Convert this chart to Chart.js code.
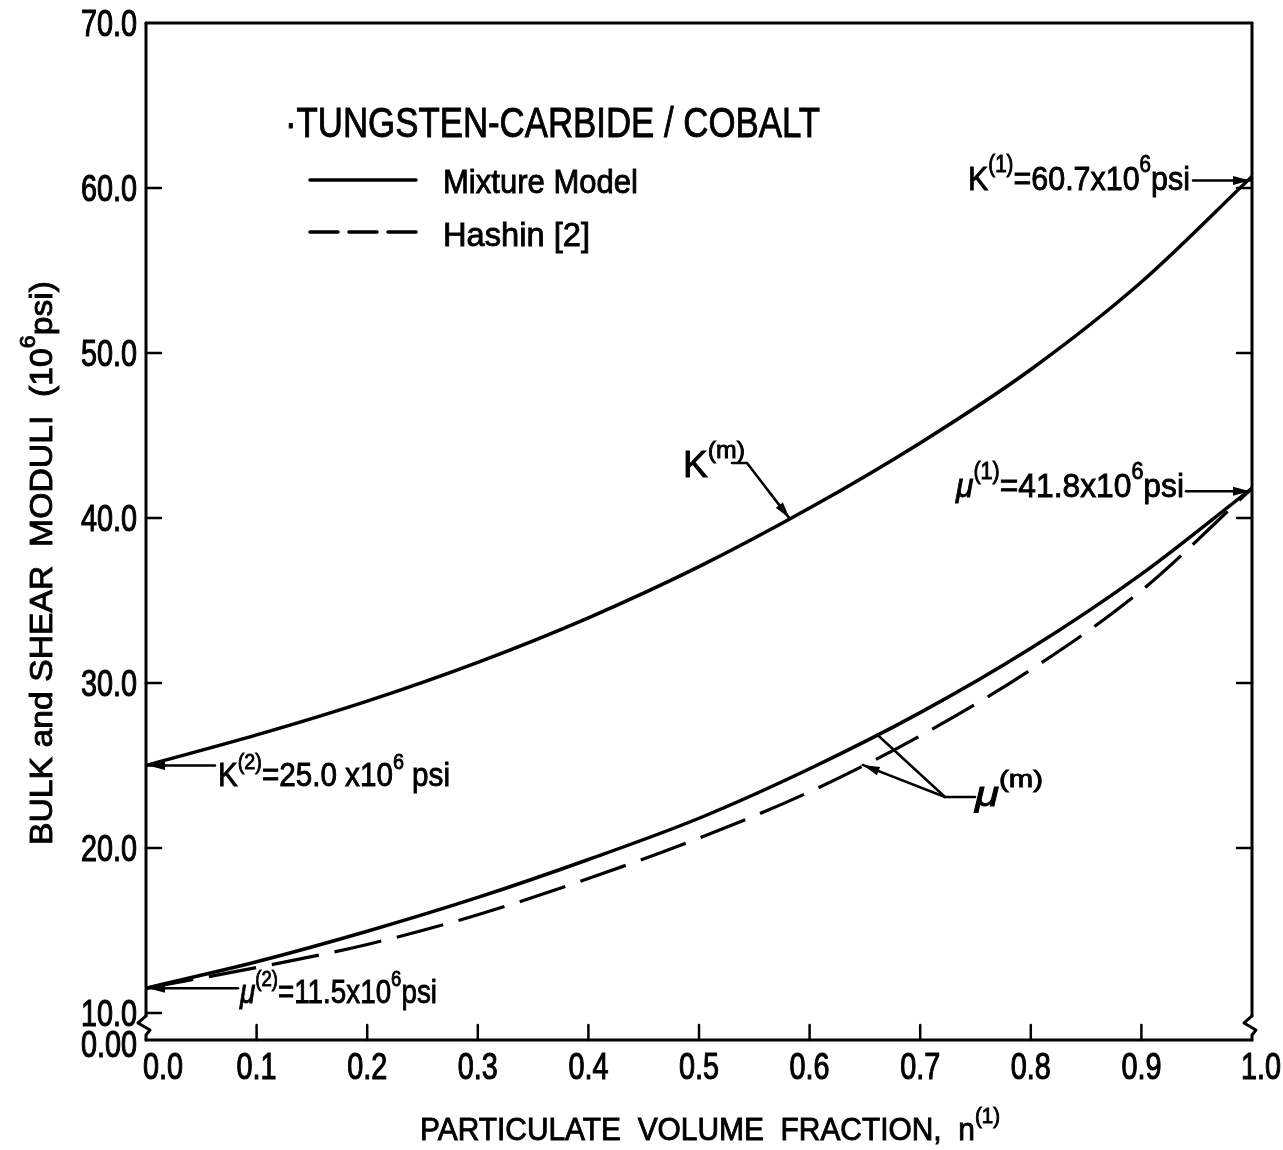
<!DOCTYPE html>
<html>
<head>
<meta charset="utf-8">
<title>Tungsten-carbide / cobalt moduli</title>
<script src="https://cdn.jsdelivr.net/npm/chart.js@4.4.1/dist/chart.umd.min.js"></script>
<style>
    html, body { margin: 0; padding: 0; background: #fff; }
    canvas { display: block; }
</style>
</head>
<body>
<canvas id="modChart" width="1283" height="1150"></canvas>
<script>
// particulate volume fraction n(1)
const fractions = [0.0, 0.1, 0.2, 0.3, 0.4, 0.5, 0.6, 0.7, 0.8, 0.9, 1.0];
// moduli, 10^6 psi
const mixtureBulk = [25.0, 26.85, 28.9, 31.25, 33.95, 37.05, 40.6, 44.55, 49.0, 54.3, 60.7];
const mixtureShear = [11.5, 13.1, 14.95, 17.0, 19.3, 21.8, 24.8, 28.2, 32.1, 36.6, 41.8];
const hashinShear = [11.5, 12.75, 14.15, 15.95, 18.15, 20.6, 23.4, 26.8, 30.8, 35.6, 41.8];

const xTicks = [0.0, 0.1, 0.2, 0.3, 0.4, 0.5, 0.6, 0.7, 0.8, 0.9, 1.0];
const yTicks = [10, 20, 30, 40, 50, 60, 70];
const yFloor = 8.36;          // broken axis: the bottom line is labelled 0.00
const yFloorLabel = "0.00";

const FONT = '"Liberation Sans", Arial, "DejaVu Sans", sans-serif';
const INK = "#000";
const TEXT_STROKE = 0.9;      // thickens the lettering a little

function toPoints(values) {
    return fractions.map((x, i) => ({ x: x, y: values[i] }));
}

function valueAt(values, f) {
    // linear lookup between read points, used only to aim the leader arrows
    for (let i = 1; i < fractions.length; i++) {
        if (f <= fractions[i]) {
            const t = (f - fractions[i - 1]) / (fractions[i] - fractions[i - 1]);
            return values[i - 1] + t * (values[i] - values[i - 1]);
        }
    }
    return values[values.length - 1];
}

function fontFor(part, size) {
    const s = part.sup ? size * 0.68 : size;
    return (part.it ? "italic " : "") + Math.round(s) + "px " + FONT;
}

function richWidth(ctx, parts, size) {
    let w = 0;
    parts.forEach((p) => {
        ctx.font = fontFor(p, size);
        w += ctx.measureText(p.t).width;
    });
    return w;
}

function inkText(ctx, text, x, y) {
    ctx.fillText(text, x, y);
    ctx.strokeText(text, x, y);
}

// text with superscripts, left/baseline at (x, y), squeezed to a width
function drawRich(ctx, parts, x, y, size, width) {
    const natural = richWidth(ctx, parts, size);
    const sx = width ? width / natural : 1;
    ctx.save();
    ctx.translate(x, y);
    ctx.scale(sx, 1);
    ctx.fillStyle = INK;
    ctx.strokeStyle = INK;
    ctx.lineWidth = TEXT_STROKE;
    ctx.setLineDash([]);
    ctx.textAlign = "left";
    ctx.textBaseline = "alphabetic";
    let cx = 0;
    parts.forEach((p) => {
        ctx.font = fontFor(p, size);
        inkText(ctx, p.t, cx, p.sup ? -size * 0.52 : 0);
        cx += ctx.measureText(p.t).width;
    });
    ctx.restore();
}

// narrow lettering for the tick numbers
function drawNarrow(ctx, text, x, y, align) {
    ctx.save();
    ctx.translate(x, y);
    ctx.scale(0.8, 1);
    ctx.font = "36px " + FONT;
    ctx.fillStyle = INK;
    ctx.strokeStyle = INK;
    ctx.lineWidth = TEXT_STROKE * 1.2;
    ctx.textAlign = align;
    ctx.textBaseline = "alphabetic";
    inkText(ctx, text, 0, 0);
    ctx.restore();
}

function polyline(ctx, pts, head) {
    ctx.beginPath();
    ctx.moveTo(pts[0][0], pts[0][1]);
    for (let i = 1; i < pts.length; i++) ctx.lineTo(pts[i][0], pts[i][1]);
    ctx.stroke();
    if (!head) return;
    const [x1, y1] = pts[pts.length - 2];
    const [x2, y2] = pts[pts.length - 1];
    const a = Math.atan2(y2 - y1, x2 - x1);
    const len = 17, half = 4.5;
    ctx.beginPath();
    ctx.moveTo(x2, y2);
    ctx.lineTo(x2 - len * Math.cos(a) + half * Math.sin(a), y2 - len * Math.sin(a) - half * Math.cos(a));
    ctx.lineTo(x2 - len * Math.cos(a) - half * Math.sin(a), y2 - len * Math.sin(a) + half * Math.cos(a));
    ctx.closePath();
    ctx.fill();
}

const framePlugin = {
    id: "frame",
    afterDatasetsDraw(chart) {
        const ctx = chart.ctx;
        const xs = chart.scales.x, ys = chart.scales.y;
        const L = chart.chartArea.left, R = chart.chartArea.right;
        const T = chart.chartArea.top, B = chart.chartArea.bottom;
        const y10 = ys.getPixelForValue(yTicks[0]);

        ctx.save();
        ctx.strokeStyle = INK;
        ctx.fillStyle = INK;
        ctx.lineWidth = 3;
        ctx.lineJoin = "round";
        ctx.lineCap = "round";

        // frame with the axis break near the bottom of both verticals
        const zig = (X) => [[X, y10 + 3], [X - 8, y10 + 10], [X + 4, y10 + 17], [X, y10 + 22], [X, B]];
        polyline(ctx, [[L, B], [R, B]]);
        polyline(ctx, [[L, T], [R, T]]);
        polyline(ctx, [[L, T], [L, y10 + 3]]);
        polyline(ctx, zig(L));
        polyline(ctx, [[R, T], [R, y10 + 3]]);
        polyline(ctx, zig(R));

        // inward tick marks
        ctx.lineWidth = 2.5;
        yTicks.slice(0, -1).forEach((v) => {
            const py = ys.getPixelForValue(v);
            polyline(ctx, [[L, py], [L + 15, py]]);
            if (v > yTicks[0]) polyline(ctx, [[R, py], [R - 15, py]]);
        });
        xTicks.slice(1, -1).forEach((v) => {
            const px = xs.getPixelForValue(v);
            polyline(ctx, [[px, B], [px, B - 15]]);
        });
        ctx.restore();
    },
    afterDraw(chart) {
        const ctx = chart.ctx;
        const xs = chart.scales.x, ys = chart.scales.y;
        const px = (f) => xs.getPixelForValue(f);
        const py = (v) => ys.getPixelForValue(v);
        const L = chart.chartArea.left, B = chart.chartArea.bottom;
        const last = fractions.length - 1;

        ctx.save();
        ctx.strokeStyle = INK;
        ctx.fillStyle = INK;
        ctx.lineCap = "round";

        // tick numbers, placed from the chart's own scale ticks
        ys.ticks.forEach((t) => {
            const label = t.value === yFloor ? yFloorLabel : Number(t.value).toFixed(1);
            const shift = t.value === yFloor ? 17 : 13;
            drawNarrow(ctx, label, L - 9, py(t.value) + shift, "right");
        });
        xs.ticks.forEach((t, i) => {
            let nudge = 0;
            if (i === 0) nudge = 17;
            if (i === xs.ticks.length - 1) nudge = 9;
            drawNarrow(ctx, Number(t.value).toFixed(1), px(t.value) + nudge, B + 39, "center");
        });

        // legend
        drawRich(ctx, [{ t: "·TUNGSTEN-CARBIDE / COBALT" }], 285, 137, 42, 535);
        ctx.lineWidth = 3.5;
        polyline(ctx, [[310, 180], [416, 180]]);
        ctx.setLineDash([28, 11]);
        polyline(ctx, [[310, 232], [416, 232]]);
        ctx.setLineDash([]);
        drawRich(ctx, [{ t: "Mixture Model" }], 443, 193, 34, 195);
        drawRich(ctx, [{ t: "Hashin [2]" }], 443, 246, 34, 147);

        // axis titles
        drawRich(ctx, [{ t: "PARTICULATE  VOLUME  FRACTION,  n" }, { t: "(1)", sup: true }], 420, 1140, 32, 580);
        const yTitle = [{ t: "BULK and SHEAR  MODULI  (10" }, { t: "6", sup: true }, { t: "psi)" }];
        ctx.save();
        ctx.translate(52, 563);
        ctx.rotate(-Math.PI / 2);
        drawRich(ctx, yTitle, -282, 0, 32, 564);
        ctx.restore();

        // end-value labels with leader arrows
        ctx.lineWidth = 2.5;
        drawRich(ctx, [{ t: "K" }, { t: "(1)", sup: true }, { t: "=60.7x10" }, { t: "6", sup: true }, { t: "psi" }], 968, 190, 34, 222);
        polyline(ctx, [[1193, py(mixtureBulk[last]) + 4], [px(1) - 2, py(mixtureBulk[last]) + 4]], true);

        drawRich(ctx, [{ t: "μ", it: true }, { t: "(1)", sup: true }, { t: "=41.8x10" }, { t: "6", sup: true }, { t: "psi" }], 956, 497, 34, 228);
        polyline(ctx, [[1186, py(mixtureShear[last]) + 3], [px(1) - 2, py(mixtureShear[last]) + 3]], true);

        drawRich(ctx, [{ t: "K" }, { t: "(2)", sup: true }, { t: "=25.0 x10" }, { t: "6", sup: true }, { t: " psi" }], 218, 786, 33, 232);
        polyline(ctx, [[215, py(mixtureBulk[0])], [px(0) + 2, py(mixtureBulk[0])]], true);

        drawRich(ctx, [{ t: "μ", it: true }, { t: "(2)", sup: true }, { t: "=11.5x10" }, { t: "6", sup: true }, { t: "psi" }], 240, 1003, 33, 197);
        polyline(ctx, [[238, py(mixtureShear[0])], [px(0) + 2, py(mixtureShear[0])]], true);

        // curve callouts
        drawRich(ctx, [{ t: "K" }, { t: "(m)", sup: true }], 683, 477, 36, 62);
        polyline(ctx, [[732, 463], [747, 463], [px(0.582), py(valueAt(mixtureBulk, 0.582))]], true);

        drawRich(ctx, [{ t: "μ", it: true }, { t: "(m)", sup: true }], 975, 806, 36, 68);
        polyline(ctx, [[975, 797], [945, 797], [px(0.661), py(valueAt(mixtureShear, 0.661))]]);
        polyline(ctx, [[945, 797], [px(0.648), py(valueAt(hashinShear, 0.648))]], true);

        ctx.restore();
    }
};

new Chart(document.getElementById("modChart"), {
    type: "line",
    data: {
        datasets: [
            {
                label: "K(m) Mixture Model",
                data: toPoints(mixtureBulk),
                borderColor: INK,
                borderWidth: 3.5,
                pointRadius: 0,
                cubicInterpolationMode: "monotone",
                fill: false
            },
            {
                label: "μ(m) Mixture Model",
                data: toPoints(mixtureShear),
                borderColor: INK,
                borderWidth: 3.5,
                pointRadius: 0,
                cubicInterpolationMode: "monotone",
                fill: false
            },
            {
                label: "μ Hashin [2]",
                data: toPoints(hashinShear),
                borderColor: INK,
                borderWidth: 3.2,
                borderDash: [48, 16],
                pointRadius: 0,
                cubicInterpolationMode: "monotone",
                fill: false
            }
        ]
    },
    options: {
        responsive: false,
        animation: false,
        layout: { padding: { top: 23, right: 31, left: 0, bottom: 0 } },
        plugins: {
            legend: { display: false },
            tooltip: { enabled: false }
        },
        scales: {
            x: {
                type: "linear",
                min: xTicks[0],
                max: xTicks[xTicks.length - 1],
                afterFit: (s) => { s.height = 110; },
                afterBuildTicks: (s) => { s.ticks = xTicks.map((v) => ({ value: v })); },
                ticks: { display: false },
                grid: { display: false, drawTicks: false },
                border: { display: false }
            },
            y: {
                type: "linear",
                min: yFloor,
                max: yTicks[yTicks.length - 1],
                afterFit: (s) => { s.width = 146; },
                afterBuildTicks: (s) => { s.ticks = [yFloor].concat(yTicks).map((v) => ({ value: v })); },
                ticks: { display: false },
                grid: { display: false, drawTicks: false },
                border: { display: false }
            }
        }
    },
    plugins: [framePlugin]
});
</script>
</body>
</html>
